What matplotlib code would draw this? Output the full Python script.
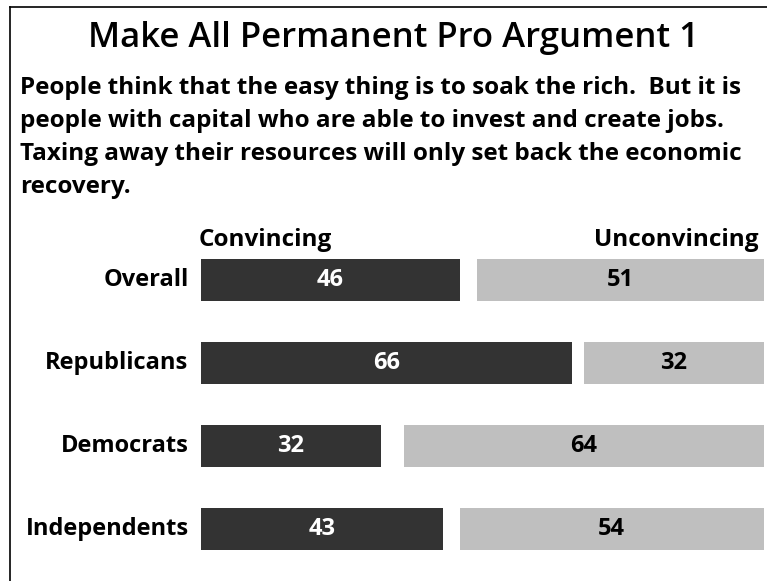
import matplotlib.pyplot as plt
from matplotlib.lines import Line2D

# Survey data
groups = ["Overall", "Republicans", "Democrats", "Independents"]
convincing = [46, 66, 32, 43]
unconvincing = [51, 32, 64, 54]

title = "Make All Permanent Pro Argument 1"
question = [
    "People think that the easy thing is to soak the rich.  But it is",
    "people with capital who are able to invest and create jobs.",
    "Taxing away their resources will only set back the economic",
    "recovery.",
]

dark = "#333333"
light = "#bfbfbf"
font = "Open Sans"

W, H = 767, 581
fig = plt.figure(figsize=(W / 100, H / 100), dpi=100)
fig.patch.set_facecolor("white")

# frame lines on the top and left edge
fig.add_artist(Line2D([10 / W, 10 / W], [0, 1 - 7 / H], color="black", lw=1.2))
fig.add_artist(Line2D([10 / W, 1], [1 - 7 / H, 1 - 7 / H], color="black", lw=1.2))

fig.text(394 / W, 1 - 38 / H, title, ha="center", va="center",
         fontsize=25, family=font, fontweight="semibold")
for i, line in enumerate(question):
    fig.text(20 / W, 1 - (88 + 33 * i) / H, line, ha="left", va="center",
             fontsize=17.5, family=font, fontweight="bold")

# bar area: 0-100 scale
ax = fig.add_axes([201 / W, 1 - 571 / H, 562.5 / W, 332.5 / H])
ax.set_xlim(0, 100)
ax.set_ylim(3.5, -0.5)
ax.axis("off")

ypos = range(len(groups))
ax.barh(ypos, convincing, height=0.506, color=dark)
ax.barh(ypos, unconvincing, left=[100 - u for u in unconvincing], height=0.506, color=light)

for y, g, c, u in zip(ypos, groups, convincing, unconvincing):
    ax.text(c / 2, y, str(c), ha="center", va="center", color="white",
            fontsize=17, family=font, fontweight="bold")
    ax.text(100 - u / 2, y, str(u), ha="center", va="center", color="black",
            fontsize=17, family=font, fontweight="bold")
    ax.text(-2.2, y, g, ha="right", va="center", color="black",
            fontsize=17, family=font, fontweight="bold")

fig.text(199 / W, 1 - 240 / H, "Convincing", ha="left", va="center",
         fontsize=17.5, family=font, fontweight="bold")
fig.text(758 / W, 1 - 240 / H, "Unconvincing", ha="right", va="center",
         fontsize=17.5, family=font, fontweight="bold")

fig.savefig("out.png", dpi=100)
